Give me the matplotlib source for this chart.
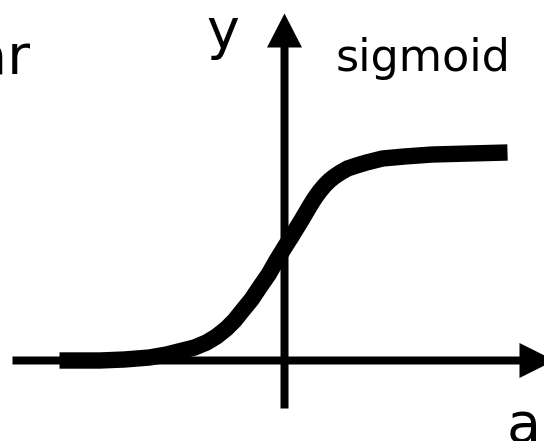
import matplotlib
matplotlib.use("Agg")
import matplotlib.pyplot as plt

# Sigmoid curve points (schematic units)
curve_a = [-225, -185, -160, -135, -118, -102, -90, -78, -68, -58, -50, -42,
           -33, -25, -16, -8, 0, 7, 18, 25, 30, 35, 40, 45, 50, 56, 63, 72,
           82, 98, 120, 148, 185, 223]
curve_y = [0, 0, 1, 3, 6, 10, 13, 18, 24, 32, 40, 50,
           61, 73, 86, 100, 113, 124, 142, 154, 162, 169, 175, 180, 184, 188,
           192, 195, 198, 202, 204, 206, 207, 208]

label_linear = "linear"
label_sigmoid = "sigmoid"
label_y = "y"
label_a = "a"

fig = plt.figure(figsize=(5.44, 4.41), dpi=100)
ax = fig.add_axes([0, 0, 1, 1])
ax.set_xlim(-284.5, 259.5)
ax.set_ylim(-80.5, 360.5)
ax.axis("off")

# axes arrows
ax.arrow(-272, 0, 542, 0, width=8, head_width=35, head_length=35,
         length_includes_head=True, color="black", lw=0)
ax.arrow(0, -48, 0, 395, width=8, head_width=35, head_length=34,
         length_includes_head=True, color="black", lw=0)

# sigmoid curve
ax.plot(curve_a, curve_y, color="black", lw=11.8, solid_capstyle="butt",
        solid_joinstyle="round")

ax.text(-254, 287, label_linear, fontsize=40, ha="right", va="baseline")
ax.text(51, 290, label_sigmoid, fontsize=32, ha="left", va="baseline")
ax.text(-62, 312, label_y, fontsize=40, ha="center", va="baseline")
ax.text(239, -81, label_a, fontsize=40, ha="center", va="baseline")

fig.savefig("out.png", dpi=100)
